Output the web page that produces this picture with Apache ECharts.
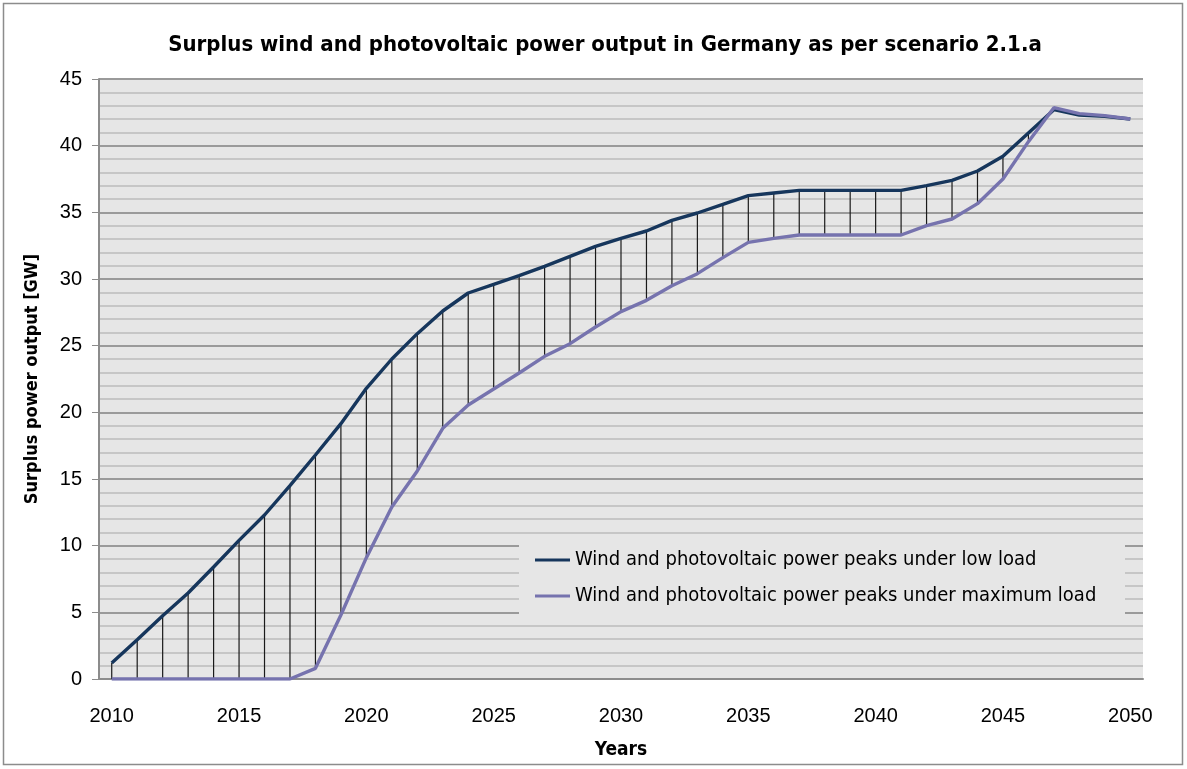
<!DOCTYPE html>
<html>
<head>
<meta charset="utf-8">
<script src="https://cdn.jsdelivr.net/npm/echarts@6/dist/echarts.min.js"></script>
<style>
  html, body { margin: 0; padding: 0; background: #ffffff; }
  #chart { width: 1187px; height: 769px; }
</style>
</head>
<body>
<div id="chart"></div>
<script>
// Years on the category axis
const years = [
  '2010','2011','2012','2013','2014','2015','2016','2017','2018','2019',
  '2020','2021','2022','2023','2024','2025','2026','2027','2028','2029',
  '2030','2031','2032','2033','2034','2035','2036','2037','2038','2039',
  '2040','2041','2042','2043','2044','2045','2046','2047','2048','2049',
  '2050'
];

// Surplus output peaks under low load [GW]
const lowLoadPeaks = [
  1.2, 2.95, 4.75, 6.45, 8.4, 10.4, 12.3, 14.5, 16.8, 19.15,
  21.8, 24.0, 25.9, 27.6, 28.95, 29.6, 30.25, 30.95, 31.7, 32.45,
  33.05, 33.6, 34.4, 34.95, 35.6, 36.25, 36.45, 36.65, 36.65, 36.65,
  36.65, 36.65, 37.0, 37.4, 38.1, 39.2, 40.95, 42.7, 42.3, 42.2,
  42.0
];

// Surplus output peaks under maximum load [GW]
const maxLoadPeaks = [
  0, 0, 0, 0, 0, 0, 0, 0, 0.8, 4.8,
  9.1, 12.9, 15.6, 18.8, 20.55, 21.75, 22.95, 24.2, 25.15, 26.4,
  27.55, 28.4, 29.5, 30.4, 31.6, 32.75, 33.05, 33.3, 33.3, 33.3,
  33.3, 33.3, 34.0, 34.5, 35.65, 37.5, 40.3, 42.85, 42.4, 42.25,
  42.0
];

const seriesNames = [
  'Wind and photovoltaic power peaks under low load',
  'Wind and photovoltaic power peaks under maximum load'
];

const chartTitle = 'Surplus wind and photovoltaic power output in Germany as per scenario 2.1.a';
const yAxisTitle = 'Surplus power output [GW]';
const xAxisTitle = 'Years';

// Vertical drop lines joining both curves at every year
const dropLines = years.map((y, i) => [i, maxLoadPeaks[i], lowLoadPeaks[i]]);

const narrow = '"DejaVu Sans Condensed", "Liberation Sans Narrow", sans-serif';
const plain = '"Liberation Sans", Arial, sans-serif';

const chart = echarts.init(document.getElementById('chart'), null, { renderer: 'canvas' });

chart.setOption({
  animation: false,
  backgroundColor: '#ffffff',
  title: {
    text: chartTitle,
    left: 600,
    textAlign: 'center',
    top: 29,
    textStyle: { fontFamily: narrow, fontWeight: 'bold', fontSize: 22, color: '#000' }
  },
  grid: { left: 99, right: 44, top: 79, bottom: 90, show: true, backgroundColor: '#e6e6e6', borderWidth: 0 },
  xAxis: {
    type: 'category',
    data: years,
    boundaryGap: true,
    name: xAxisTitle,
    nameLocation: 'middle',
    nameGap: 62,
    nameTextStyle: { fontFamily: narrow, fontWeight: 'bold', fontSize: 19, color: '#000' },
    axisLine: { show: true, lineStyle: { color: '#8c8c8c', width: 2 } },
    axisTick: { show: false },
    axisLabel: {
      interval: 4,
      margin: 27,
      fontFamily: plain,
      fontSize: 20,
      color: '#000'
    },
    splitLine: { show: false }
  },
  yAxis: {
    type: 'value',
    min: 0,
    max: 45,
    interval: 5,
    name: yAxisTitle,
    nameLocation: 'middle',
    nameGap: 58,
    nameTextStyle: { fontFamily: narrow, fontWeight: 'bold', fontSize: 18, color: '#000' },
    axisLine: { show: true, lineStyle: { color: '#8c8c8c', width: 2 } },
    axisTick: { show: true, length: 7, inside: false, lineStyle: { color: '#8c8c8c', width: 1 } },
    axisLabel: { margin: 17, fontFamily: plain, fontSize: 20, color: '#000' },
    splitLine: { show: true, lineStyle: { color: '#9a9a9a', width: 2 } },
    minorTick: { show: false, splitNumber: 5 },
    minorSplitLine: { show: true, lineStyle: { color: '#c6c6c6', width: 2 } }
  },
  legend: {
    orient: 'vertical',
    left: 519,
    top: 540,
    padding: [10, 12, 11, 16],
    itemGap: 16,
    itemWidth: 35,
    itemHeight: 3,
    icon: 'rect',
    z: 10,
    data: seriesNames,
    textStyle: { fontFamily: narrow, fontSize: 20, color: '#000' }
  },
  graphic: [
    {
      type: 'rect',
      z: 3,
      shape: { x: 519, y: 540, width: 606, height: 78 },
      style: { fill: '#e6e6e6' }
    },
    {
      type: 'rect',
      z: 1,
      silent: true,
      shape: { x: 3.5, y: 3.5, width: 1179, height: 761 },
      style: { fill: null, stroke: '#8c8c8c', lineWidth: 1.5 }
    }
  ],
  series: [
    {
      name: 'drops',
      type: 'custom',
      z: 1,
      silent: true,
      data: dropLines,
      encode: { x: 0, y: [1, 2] },
      renderItem: function (params, api) {
        const lo = api.coord([api.value(0), api.value(1)]);
        const hi = api.coord([api.value(0), api.value(2)]);
        return {
          type: 'line',
          shape: { x1: lo[0], y1: lo[1], x2: hi[0], y2: hi[1] },
          style: { stroke: '#1a1a1a', lineWidth: 1.2 }
        };
      }
    },
    {
      name: seriesNames[0],
      type: 'line',
      data: lowLoadPeaks,
      symbol: 'none',
      z: 3,
      lineStyle: { color: '#16365c', width: 3.4 },
      itemStyle: { color: '#16365c' }
    },
    {
      name: seriesNames[1],
      type: 'line',
      data: maxLoadPeaks,
      symbol: 'none',
      z: 4,
      lineStyle: { color: '#7673ae', width: 3.4 },
      itemStyle: { color: '#7673ae' }
    }
  ]
});
</script>
</body>
</html>
